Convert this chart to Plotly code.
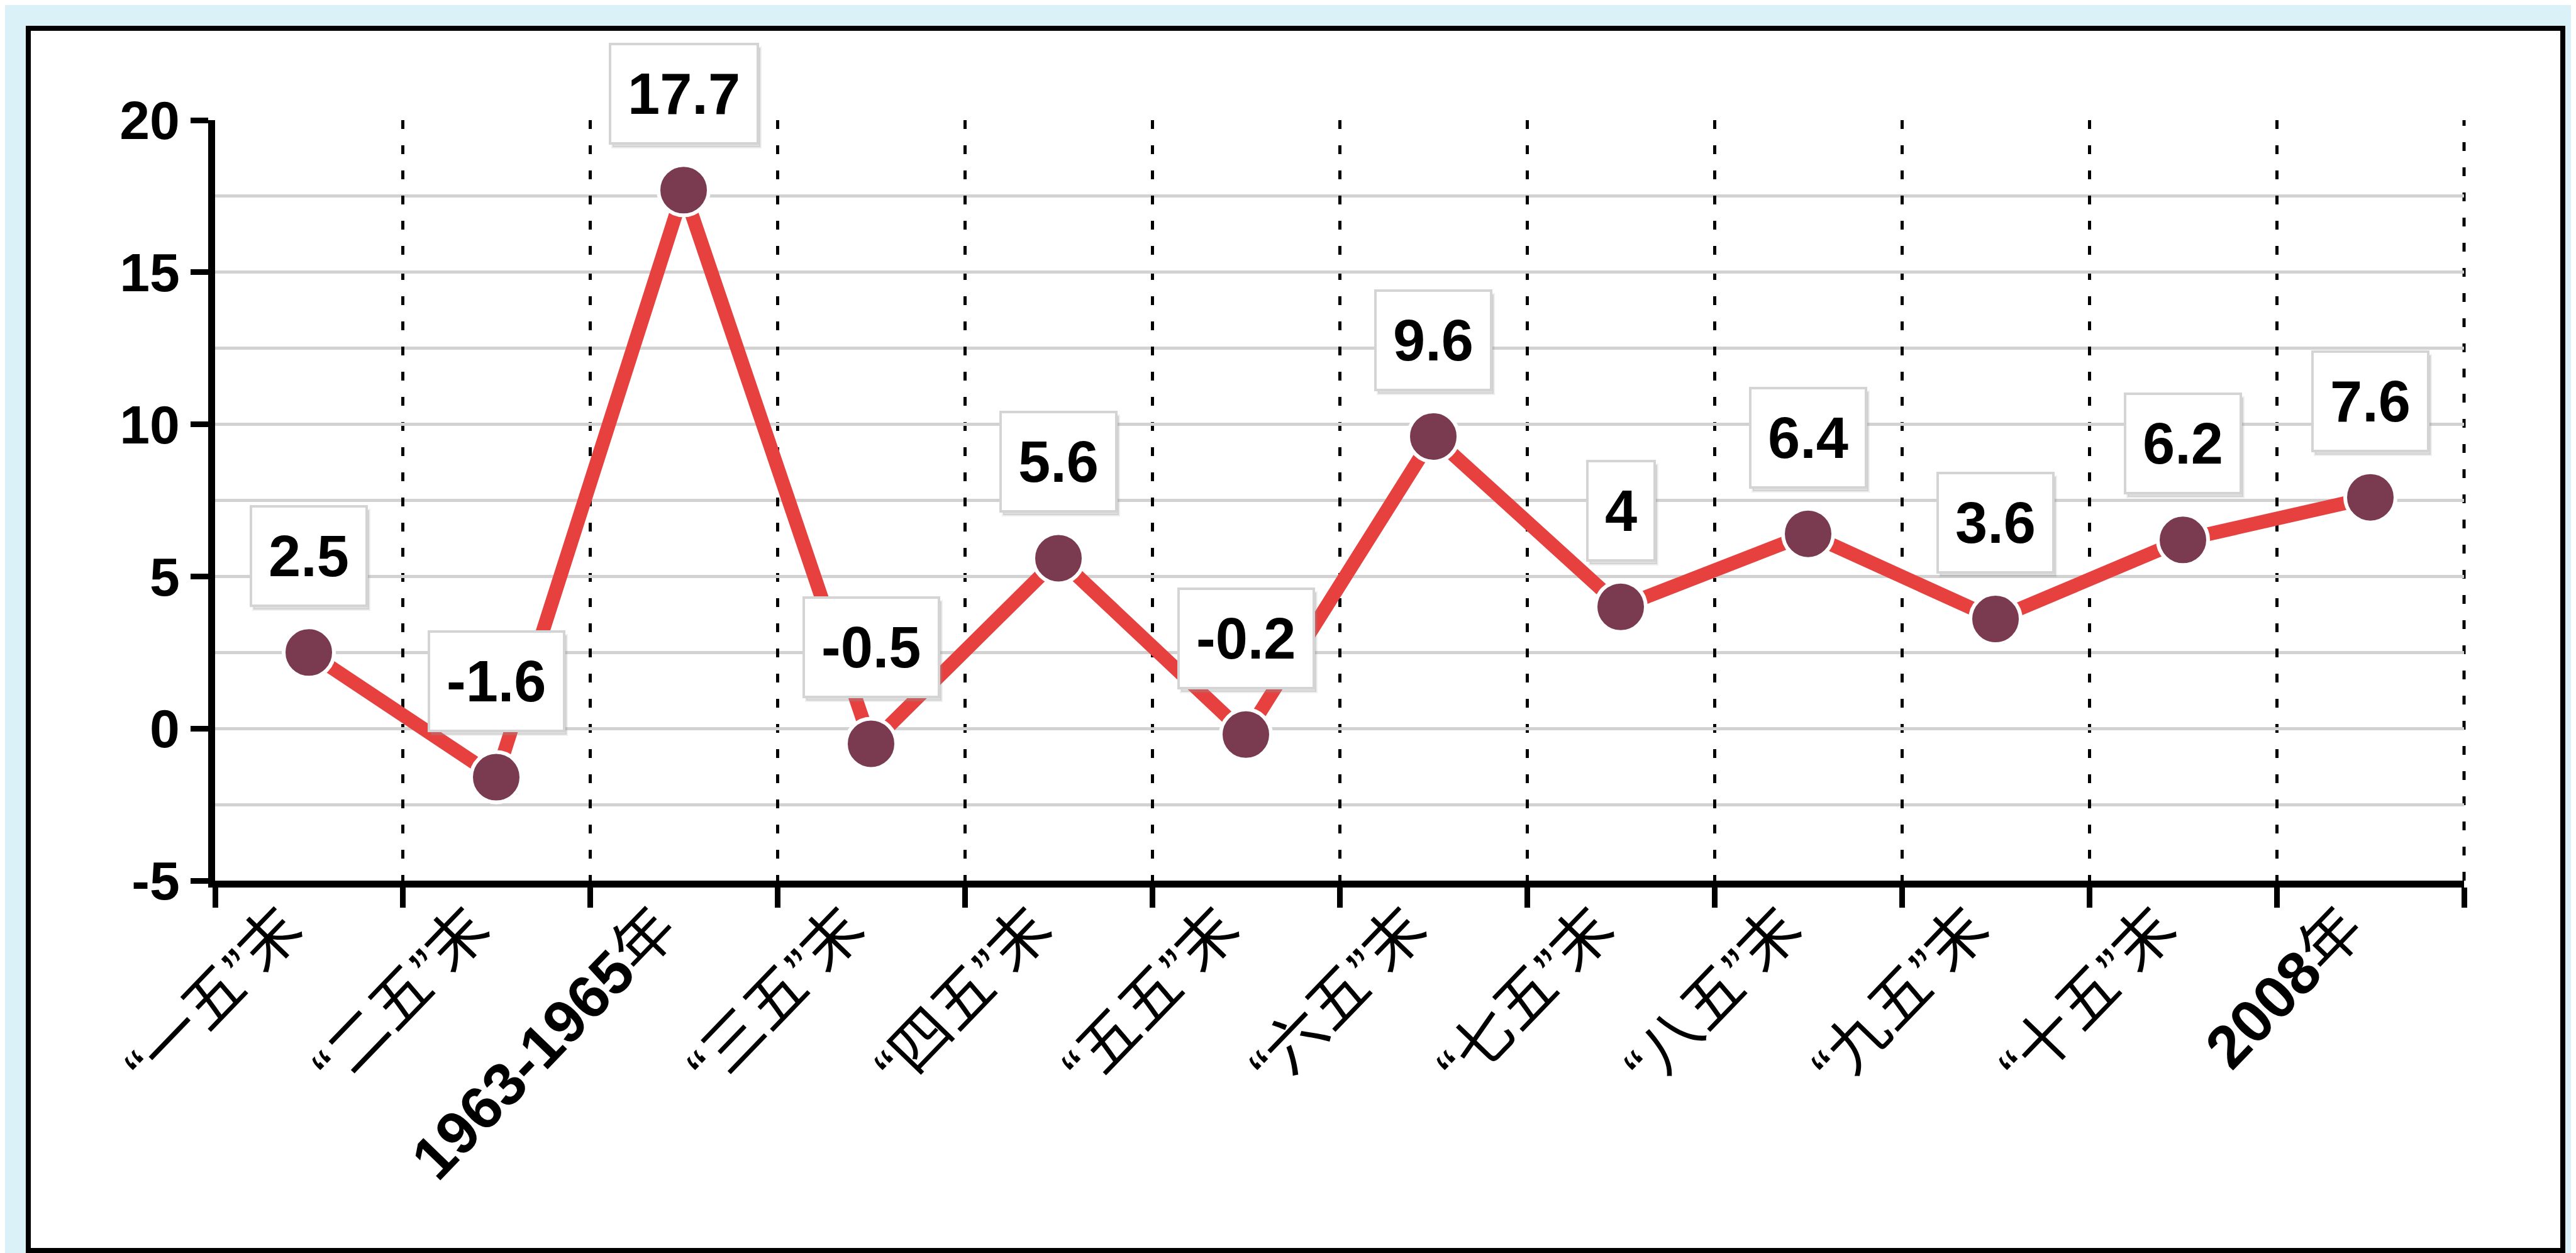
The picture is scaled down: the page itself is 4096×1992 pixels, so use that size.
import plotly.graph_objects as go

categories = ["“一五”末", "“二五”末", "<b>1963-1965</b>年", "“三五”末", "“四五”末", "“五五”末",
              "“六五”末", "“七五”末", "“八五”末", "“九五”末", "“十五”末", "<b>2008</b>年"]
values = [2.5, -1.6, 17.7, -0.5, 5.6, -0.2, 9.6, 4, 6.4, 3.6, 6.2, 7.6]
value_labels = ["2.5", "-1.6", "17.7", "-0.5", "5.6", "-0.2", "9.6", "4", "6.4", "3.6", "6.2", "7.6"]
y_ticks = [-5, 0, 5, 10, 15, 20]

W, H = 4096, 1992
L, R, T, B = 334, 186, 183, 600
pw, ph = W - L - R, H - T - B

fig = go.Figure()
fig.add_trace(go.Scatter(
    x=categories, y=values, mode="lines+markers",
    line=dict(color="#e6403f", width=22),
    marker=dict(size=80, color="#7a3a50", line=dict(color="white", width=6)),
    hoverinfo="skip", showlegend=False, cliponaxis=False,
))

for c, v, t in zip(categories, values, value_labels):
    # soft drop shadow behind the label box
    fig.add_annotation(
        x=c, y=v, xref="x", yref="y", text="<b>" + t + "</b>",
        showarrow=False, yanchor="bottom", yshift=66, xshift=4,
        font=dict(family="Liberation Sans, Arial", size=92, color="rgba(0,0,0,0)"),
        bgcolor="rgba(150,150,150,0.3)", bordercolor="rgba(150,150,150,0.15)",
        borderwidth=4, borderpad=26,
    )
    fig.add_annotation(
        x=c, y=v, xref="x", yref="y", text="<b>" + t + "</b>",
        showarrow=False, yanchor="bottom", yshift=72,
        font=dict(family="Liberation Sans, Arial", size=92, color="black"),
        bgcolor="white", bordercolor="#d4d4d4", borderwidth=4, borderpad=26,
    )

def px2paper_x(p):
    return (p - L) / pw

def px2paper_y(p):
    return 1 - (p - T) / ph

fig.add_shape(type="rect", xref="paper", yref="paper",
              x0=px2paper_x(37), x1=px2paper_x(4067),
              y0=px2paper_y(1980), y1=px2paper_y(37),
              fillcolor="white", line=dict(color="black", width=8), layer="below")
# dotted gridline at the right edge of the plot
fig.add_shape(type="line", xref="paper", yref="paper", x0=1, x1=1, y0=0, y1=1,
              line=dict(color="black", width=5, dash="14px,26px"), layer="below")

fig.update_layout(
    width=W, height=H,
    margin=dict(l=L, r=R, t=T, b=B),
    paper_bgcolor="#d9f1f7",
    plot_bgcolor="rgba(0,0,0,0)",
    font=dict(family="Liberation Sans, Arial, Noto Sans CJK SC", color="black"),
    xaxis=dict(
        type="category",
        categoryorder="array", categoryarray=categories,
        range=[-0.5, len(categories) - 0.5],
        tickson="boundaries", tickangle=-46,
        ticks="outside", ticklen=32, tickwidth=9, tickcolor="black",
        showline=True, linecolor="black", linewidth=11,
        showgrid=True, gridcolor="black", gridwidth=5, griddash="14px,26px",
        tickfont=dict(family="Liberation Sans, Arial, Noto Sans CJK SC", size=96, color="black"),
        ticklabelstandoff=-30, ticklabelshift=-40,
        zeroline=False,
    ),
    yaxis=dict(
        range=[-5, 20], tickmode="array", tickvals=y_ticks,
        ticktext=["<b>%d</b>" % v for v in y_ticks],
        ticks="outside", ticklen=28, tickwidth=9, tickcolor="black",
        showline=True, linecolor="black", linewidth=11,
        showgrid=True, gridcolor="#d2d2d2", gridwidth=5,
        minor=dict(dtick=2.5, showgrid=True, gridcolor="#d2d2d2", gridwidth=5, ticks=""),
        tickfont=dict(family="Liberation Sans, Arial", size=86, color="black"),
        zeroline=False,
    ),
)

fig.write_html("out.html")
